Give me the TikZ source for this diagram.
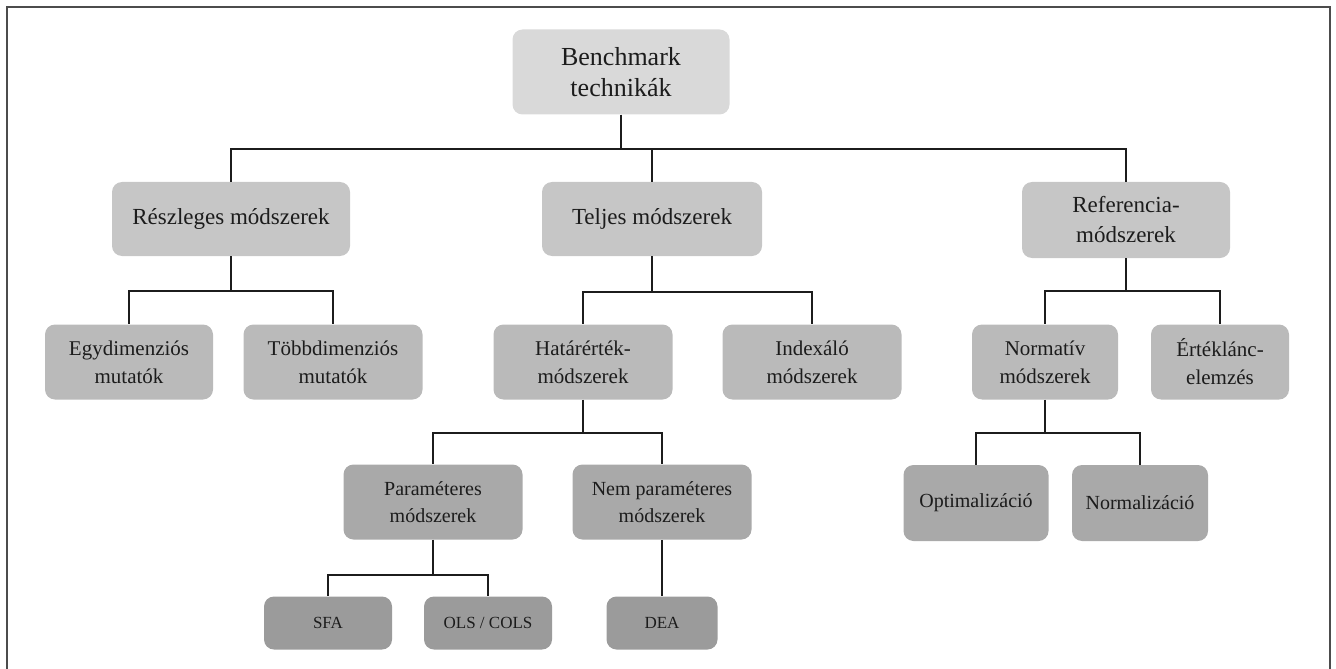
\documentclass[tikz,border=0pt]{standalone}
\usepackage{fontspec}
\setmainfont{Liberation Serif}
\usepackage{tikz}
\definecolor{cTop}{HTML}{D9D9D9}
\definecolor{cTwo}{HTML}{C6C6C6}
\definecolor{cThree}{HTML}{BABABA}
\definecolor{cFour}{HTML}{A9A9A9}
\definecolor{cFive}{HTML}{9B9B9B}
\definecolor{cInk}{HTML}{1C1C1C}
\begin{document}
\begin{tikzpicture}[x=0.5pt,y=-0.5pt]
\tikzstyle{box}=[rounded corners=5pt,align=center,inner sep=0pt,text=cInk]
\tikzstyle{lvtop}=[box,fill=cTop,font=\fontsize{13}{15.5}\selectfont]
\tikzstyle{lvtwo}=[box,fill=cTwo,font=\fontsize{11.5}{15}\selectfont]
\tikzstyle{lvthree}=[box,fill=cThree,font=\fontsize{10.5}{14}\selectfont]
\tikzstyle{lvfour}=[box,fill=cFour,font=\fontsize{10}{13.5}\selectfont]
\tikzstyle{lvfive}=[box,fill=cFive,font=\fontsize{8.5}{10}\selectfont]
\tikzstyle{link}=[line width=1pt,cInk]
\useasboundingbox (0,0) rectangle (1336,668);
\draw[line width=1pt,black!70](7,690)--(7,7)--(1330,7)--(1330,690);

\node[lvtop,minimum width=108.5pt,minimum height=42.5pt](bench) at (621,72){Benchmark\\technikák};

\node[lvtwo,minimum width=119pt,minimum height=37pt](reszl) at (231,219){Részleges módszerek};
\node[lvtwo,minimum width=110pt,minimum height=37pt](teljes) at (652,219){Teljes módszerek};
\node[lvtwo,minimum width=104pt,minimum height=38pt](refer) at (1126,220){Referencia-\\módszerek};

\node[lvthree,minimum width=84pt,minimum height=37.5pt](egy) at (129,362){Egydimenziós\\mutatók};
\node[lvthree,minimum width=89.5pt,minimum height=37.5pt](tobb) at (333,362){Többdimenziós\\mutatók};
\node[lvthree,minimum width=89.5pt,minimum height=37.5pt](hatar) at (583,362){Határérték-\\módszerek};
\node[lvthree,minimum width=89.5pt,minimum height=37.5pt](index) at (812,362){Indexáló\\módszerek};
\node[lvthree,minimum width=73pt,minimum height=37.5pt](norm) at (1045,362){Normatív\\módszerek};
\node[lvthree,minimum width=69pt,minimum height=37.5pt](ertek) at (1220,362){Értéklánc-\\elemzés};

\node[lvfour,minimum width=89.5pt,minimum height=37.5pt](param) at (433,502){Paraméteres\\módszerek};
\node[lvfour,minimum width=89.5pt,minimum height=37.5pt](nparam) at (662,502){Nem paraméteres\\módszerek};
\node[lvfour,minimum width=72.5pt,minimum height=38pt](optim) at (976,503){Optimalizáció};
\node[lvfour,minimum width=68pt,minimum height=38pt](normal) at (1140,503){Normalizáció};

\node[lvfive,minimum width=64pt,minimum height=26.5pt](sfa) at (328,623){SFA};
\node[lvfive,minimum width=64pt,minimum height=26.5pt](ols) at (488,623){OLS / COLS};
\node[lvfive,minimum width=55.5pt,minimum height=26.5pt](dea) at (662,623){DEA};

% tree links
\draw[link](bench.south)--++(0,34)-|(reszl.north);
\draw[link](bench.south)--++(0,34)-|(teljes.north);
\draw[link](bench.south)--++(0,34)-|(refer.north);
\draw[link](reszl.south)--++(0,35)-|(egy.north);
\draw[link](reszl.south)--++(0,35)-|(tobb.north);
\draw[link](teljes.south)--++(0,36)-|(hatar.north);
\draw[link](teljes.south)--++(0,36)-|(index.north);
\draw[link](refer.south)--++(0,33)-|(norm.north);
\draw[link](refer.south)--++(0,33)-|(ertek.north);
\draw[link](hatar.south)--++(0,33)-|(param.north);
\draw[link](hatar.south)--++(0,33)-|(nparam.north);
\draw[link](norm.south)--++(0,33)-|(optim.north);
\draw[link](norm.south)--++(0,33)-|(normal.north);
\draw[link](param.south)--++(0,35)-|(sfa.north);
\draw[link](param.south)--++(0,35)-|(ols.north);
\draw[link](nparam.south)--(dea.north);
\end{tikzpicture}
\end{document}
